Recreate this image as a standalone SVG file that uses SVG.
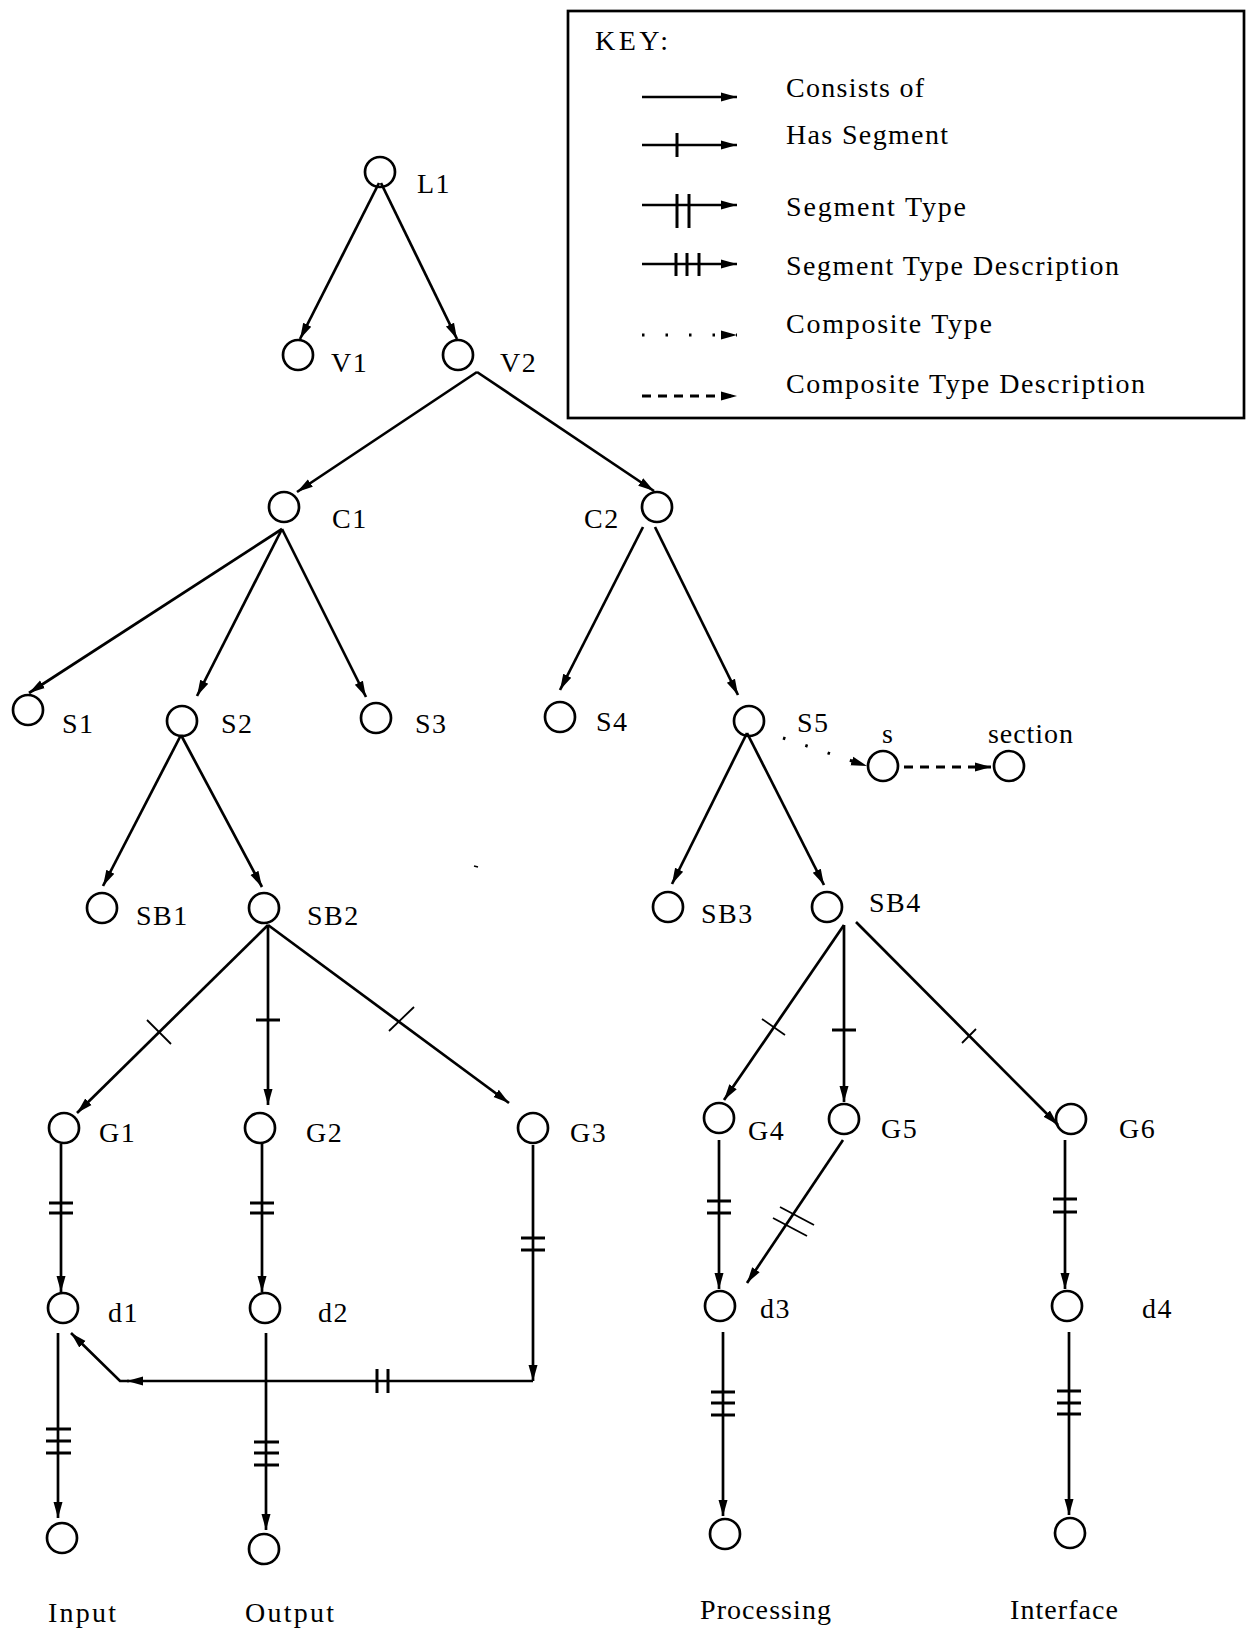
<svg xmlns="http://www.w3.org/2000/svg" width="1248" height="1632" viewBox="0 0 1248 1632">
<defs>
<style>
.n{fill:none;stroke:#000;stroke-width:2.7}
.e{fill:none;stroke:#000;stroke-width:2.7}
.tk{fill:none;stroke:#000;stroke-width:3}
.tt{fill:none;stroke:#000;stroke-width:1.8}
.t{font-family:"Liberation Serif","Times New Roman",serif;font-size:28px;fill:#000}
.l{letter-spacing:1.5px}
.dot{stroke-dasharray:2.5 21;stroke-linecap:butt;stroke-width:3}
.dash{stroke-dasharray:9 7;stroke-width:3}
</style>
<marker id="ah" markerUnits="userSpaceOnUse" markerWidth="17" markerHeight="11" refX="16" refY="5.5" orient="auto">
<path d="M0,1 L16,5.5 L0,10 Z" fill="#000"/>
</marker>
</defs>
<rect width="1248" height="1632" fill="#fff"/>

<g id="key">
<rect x="568" y="11" width="676" height="407" fill="none" stroke="#000" stroke-width="2.7"/>
<text class="t" x="595" y="50" textLength="73" lengthAdjust="spacing">KEY:</text>
<line class="e" x1="642" y1="97" x2="737" y2="97" marker-end="url(#ah)"/>
<text class="t" x="786" y="97" textLength="138" lengthAdjust="spacing">Consists of</text>
<line class="e" x1="642" y1="145" x2="737" y2="145" marker-end="url(#ah)"/>
<line class="tk" x1="677" y1="133" x2="677" y2="157"/>
<text class="t" x="786" y="144" textLength="162" lengthAdjust="spacing">Has Segment</text>
<line class="e" x1="642" y1="205" x2="737" y2="205" marker-end="url(#ah)"/>
<line class="tk" x1="677" y1="194" x2="677" y2="228"/>
<line class="tk" x1="689" y1="194" x2="689" y2="228"/>
<text class="t" x="786" y="216" textLength="180" lengthAdjust="spacing">Segment Type</text>
<line class="e" x1="642" y1="264" x2="737" y2="264" marker-end="url(#ah)"/>
<line class="tk" x1="676" y1="253" x2="676" y2="276"/>
<line class="tk" x1="687" y1="253" x2="687" y2="276"/>
<line class="tk" x1="699" y1="253" x2="699" y2="276"/>
<text class="t" x="786" y="275" textLength="333" lengthAdjust="spacing">Segment Type Description</text>
<line class="e dot" x1="642" y1="335" x2="737" y2="335" marker-end="url(#ah)"/>
<text class="t" x="786" y="333" textLength="206" lengthAdjust="spacing">Composite Type</text>
<line class="e dash" x1="642" y1="396" x2="737" y2="396" marker-end="url(#ah)"/>
<text class="t" x="786" y="393" textLength="359" lengthAdjust="spacing">Composite Type Description</text>
</g>

<g id="connectors">
<path class="e" d="M379,183 L300,339" marker-end="url(#ah)"/>
<path class="e" d="M381,183 L457,339" marker-end="url(#ah)"/>
<path class="e" d="M477,372 L297,492" marker-end="url(#ah)"/>
<path class="e" d="M477,372 L654,491" marker-end="url(#ah)"/>
<path class="e" d="M282,529 L29,693" marker-end="url(#ah)"/>
<path class="e" d="M282,529 L197,696" marker-end="url(#ah)"/>
<path class="e" d="M282,529 L366,697" marker-end="url(#ah)"/>
<path class="e" d="M643,527 L560,690" marker-end="url(#ah)"/>
<path class="e" d="M655,527 L738,695" marker-end="url(#ah)"/>
<path class="e" d="M181,735 L103,886" marker-end="url(#ah)"/>
<path class="e" d="M181,735 L262,887" marker-end="url(#ah)"/>
<path class="e" d="M747,733 L672,884" marker-end="url(#ah)"/>
<path class="e" d="M747,733 L824,885" marker-end="url(#ah)"/>
<path class="e dot" d="M783,738 L867,766" marker-end="url(#ah)"/>
<path class="e dash" d="M904,767 L991,767" marker-end="url(#ah)"/>

<path class="e" d="M268,925 L77,1113" marker-end="url(#ah)"/>
<line class="tt" x1="147" y1="1020" x2="171" y2="1044"/>
<path class="e" d="M268,925 L268,1105" marker-end="url(#ah)"/>
<line class="tk" x1="256" y1="1020" x2="280" y2="1020"/>
<path class="e" d="M268,925 L509,1103" marker-end="url(#ah)"/>
<line class="tt" x1="389" y1="1031" x2="414" y2="1007"/>

<path class="e" d="M844,925 L724,1100" marker-end="url(#ah)"/>
<line class="tt" x1="762" y1="1019" x2="785" y2="1035"/>
<path class="e" d="M844,925 L844,1102" marker-end="url(#ah)"/>
<line class="tk" x1="832" y1="1030" x2="856" y2="1030"/>
<path class="e" d="M856,922 L1058,1125" marker-end="url(#ah)"/>
<line class="tt" x1="962" y1="1043" x2="976" y2="1029"/>

<path class="e" d="M61,1144 L61,1292" marker-end="url(#ah)"/>
<line class="tk" x1="49" y1="1203" x2="73" y2="1203"/>
<line class="tk" x1="49" y1="1213" x2="73" y2="1213"/>
<path class="e" d="M262,1144 L262,1292" marker-end="url(#ah)"/>
<line class="tk" x1="250" y1="1203" x2="274" y2="1203"/>
<line class="tk" x1="250" y1="1213" x2="274" y2="1213"/>

<path class="e" d="M533,1145 L533,1381" marker-end="url(#ah)"/>
<line class="tk" x1="521" y1="1238" x2="545" y2="1238"/>
<line class="tk" x1="521" y1="1250" x2="545" y2="1250"/>
<path class="e" d="M533,1381 L127,1381" marker-end="url(#ah)"/>
<path class="e" d="M129,1381 L120,1381 L71,1333" marker-end="url(#ah)"/>
<line class="tk" x1="377" y1="1369" x2="377" y2="1393"/>
<line class="tk" x1="388" y1="1369" x2="388" y2="1393"/>

<path class="e" d="M719,1140 L719,1289" marker-end="url(#ah)"/>
<line class="tk" x1="707" y1="1201" x2="731" y2="1201"/>
<line class="tk" x1="707" y1="1213" x2="731" y2="1213"/>
<path class="e" d="M843,1140 L747,1283" marker-end="url(#ah)"/>
<line class="tt" x1="780" y1="1207" x2="814" y2="1225"/>
<line class="tt" x1="773" y1="1218" x2="807" y2="1236"/>
<path class="e" d="M1065,1140 L1065,1289" marker-end="url(#ah)"/>
<line class="tk" x1="1053" y1="1199" x2="1077" y2="1199"/>
<line class="tk" x1="1053" y1="1212" x2="1077" y2="1212"/>

<path class="e" d="M58,1333 L58,1518" marker-end="url(#ah)"/>
<line class="tk" x1="46" y1="1429" x2="71" y2="1429"/>
<line class="tk" x1="46" y1="1441" x2="71" y2="1441"/>
<line class="tk" x1="46" y1="1453" x2="71" y2="1453"/>
<path class="e" d="M266,1333 L266,1530" marker-end="url(#ah)"/>
<line class="tk" x1="254" y1="1442" x2="279" y2="1442"/>
<line class="tk" x1="254" y1="1453" x2="279" y2="1453"/>
<line class="tk" x1="254" y1="1465" x2="279" y2="1465"/>
<path class="e" d="M723,1332 L723,1516" marker-end="url(#ah)"/>
<line class="tk" x1="711" y1="1392" x2="735" y2="1392"/>
<line class="tk" x1="711" y1="1403" x2="735" y2="1403"/>
<line class="tk" x1="711" y1="1415" x2="735" y2="1415"/>
<path class="e" d="M1069,1332 L1069,1515" marker-end="url(#ah)"/>
<line class="tk" x1="1057" y1="1391" x2="1081" y2="1391"/>
<line class="tk" x1="1057" y1="1403" x2="1081" y2="1403"/>
<line class="tk" x1="1057" y1="1414" x2="1081" y2="1414"/>
</g>

<g id="L1"><circle class="n" cx="380" cy="172" r="15"/><text class="t l" x="417" y="193">L1</text></g>
<g id="V1"><circle class="n" cx="298" cy="355" r="15"/><text class="t l" x="331" y="372">V1</text></g>
<g id="V2"><circle class="n" cx="458" cy="355" r="15"/><text class="t l" x="500" y="372">V2</text></g>
<g id="C1"><circle class="n" cx="284" cy="507" r="15"/><text class="t l" x="332" y="528">C1</text></g>
<g id="C2"><circle class="n" cx="657" cy="507" r="15"/><text class="t l" x="584" y="528">C2</text></g>
<g id="S1"><circle class="n" cx="28" cy="710" r="15"/><text class="t l" x="62" y="733">S1</text></g>
<g id="S2"><circle class="n" cx="182" cy="721" r="15"/><text class="t l" x="221" y="733">S2</text></g>
<g id="S3"><circle class="n" cx="376" cy="718" r="15"/><text class="t l" x="415" y="733">S3</text></g>
<g id="S4"><circle class="n" cx="560" cy="717" r="15"/><text class="t l" x="596" y="731">S4</text></g>
<g id="S5"><circle class="n" cx="749" cy="721" r="15"/><text class="t l" x="797" y="732">S5</text></g>
<g id="s"><circle class="n" cx="883" cy="766" r="15"/><text class="t" x="882" y="743">s</text></g>
<g id="section"><circle class="n" cx="1009" cy="766" r="15"/><text class="t" x="988" y="743" textLength="85" lengthAdjust="spacing">section</text></g>
<g id="SB1"><circle class="n" cx="102" cy="908" r="15"/><text class="t l" x="136" y="925">SB1</text></g>
<g id="SB2"><circle class="n" cx="264" cy="908" r="15"/><text class="t l" x="307" y="925">SB2</text></g>
<g id="SB3"><circle class="n" cx="668" cy="907" r="15"/><text class="t l" x="701" y="923">SB3</text></g>
<g id="SB4"><circle class="n" cx="827" cy="907" r="15"/><text class="t l" x="869" y="912">SB4</text></g>
<g id="G1"><circle class="n" cx="64" cy="1128" r="15"/><text class="t l" x="99" y="1142">G1</text></g>
<g id="G2"><circle class="n" cx="260" cy="1128" r="15"/><text class="t l" x="306" y="1142">G2</text></g>
<g id="G3"><circle class="n" cx="533" cy="1128" r="15"/><text class="t l" x="570" y="1142">G3</text></g>
<g id="G4"><circle class="n" cx="719" cy="1118" r="15"/><text class="t l" x="748" y="1140">G4</text></g>
<g id="G5"><circle class="n" cx="844" cy="1119" r="15"/><text class="t l" x="881" y="1138">G5</text></g>
<g id="G6"><circle class="n" cx="1071" cy="1119" r="15"/><text class="t l" x="1119" y="1138">G6</text></g>
<g id="d1"><circle class="n" cx="63" cy="1308" r="15"/><text class="t l" x="108" y="1322">d1</text></g>
<g id="d2"><circle class="n" cx="265" cy="1308" r="15"/><text class="t l" x="318" y="1322">d2</text></g>
<g id="d3"><circle class="n" cx="720" cy="1306" r="15"/><text class="t l" x="760" y="1318">d3</text></g>
<g id="d4"><circle class="n" cx="1067" cy="1306" r="15"/><text class="t l" x="1142" y="1318">d4</text></g>
<g id="Input"><circle class="n" cx="62" cy="1538" r="15"/><text class="t" x="48" y="1622" textLength="68" lengthAdjust="spacing">Input</text></g>
<g id="Output"><circle class="n" cx="264" cy="1549" r="15"/><text class="t" x="245" y="1622" textLength="89" lengthAdjust="spacing">Output</text></g>
<g id="Processing"><circle class="n" cx="725" cy="1534" r="15"/><text class="t" x="700" y="1619" textLength="131" lengthAdjust="spacing">Processing</text></g>
<g id="Interface"><circle class="n" cx="1070" cy="1533" r="15"/><text class="t" x="1010" y="1619" textLength="108" lengthAdjust="spacing">Interface</text></g>
<line x1="474" y1="866" x2="478" y2="867" stroke="#000" stroke-width="1.5"/>
</svg>
